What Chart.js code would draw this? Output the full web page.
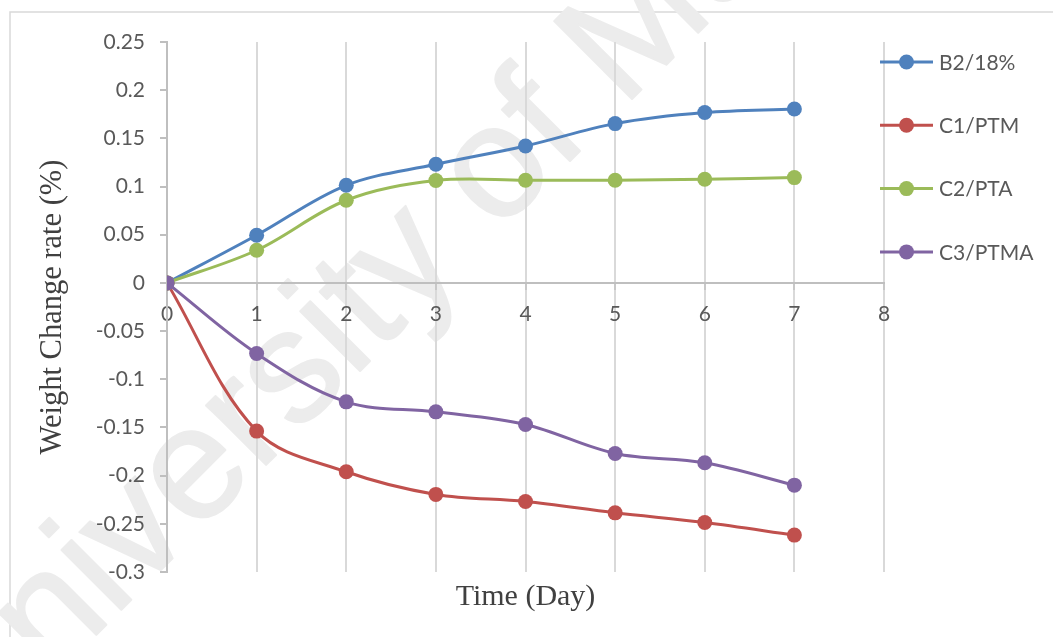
<!DOCTYPE html>
<html>
<head>
<meta charset="utf-8">
<title>Weight change rate</title>
<script src="https://cdn.jsdelivr.net/npm/chart.js@4.4.1/dist/chart.umd.min.js"></script>
<style>
  html, body { margin: 0; padding: 0; background: #ffffff; }
  #wrap { width: 1053px; height: 637px; position: relative; }
</style>
</head>
<body>
<div id="wrap"><canvas id="chart" width="1053" height="637"></canvas></div>
<script>
// Time points (days)
const days = [0, 1, 2, 3, 4, 5, 6, 7];

// Series names
const seriesNames = ['B2/18%', 'C1/PTM', 'C2/PTA', 'C3/PTMA'];

// Weight change rate (%) per series
const b2 = [0, 0.0495, 0.1013, 0.1231, 0.1421, 0.1653, 0.1768, 0.1805];
const c1 = [0, -0.1538, -0.1960, -0.2195, -0.2268, -0.2386, -0.2486, -0.2617];
const c2 = [0, 0.0339, 0.0858, 0.1062, 0.1065, 0.1065, 0.1076, 0.1093];
const c3 = [0, -0.0733, -0.1234, -0.1338, -0.1469, -0.1770, -0.1867, -0.2099];

// Axis ticks
const xTickValues = [0, 1, 2, 3, 4, 5, 6, 7, 8];
const xTickLabels = ['0', '1', '2', '3', '4', '5', '6', '7', '8'];
const yTickValues = [0.25, 0.2, 0.15, 0.1, 0.05, 0, -0.05, -0.1, -0.15, -0.2, -0.25, -0.3];
const yTickLabels = ['0.25', '0.2', '0.15', '0.1', '0.05', '0', '-0.05', '-0.1', '-0.15', '-0.2', '-0.25', '-0.3'];

const seriesValues = [b2, c1, c2, c3];
const seriesColors = ['#4f81bd', '#c0504d', '#9bbb59', '#8064a2'];

const tickFont = { family: 'Lato', size: 21 };
const tickColor = '#595959';
const titleFont = { family: 'Liberation Serif', size: 30 };

const datasets = seriesNames.map((name, i) => ({
  label: name,
  data: days.map((d, k) => ({ x: d, y: seriesValues[i][k] })),
  borderColor: seriesColors[i],
  backgroundColor: seriesColors[i],
  pointBackgroundColor: seriesColors[i],
  pointBorderColor: seriesColors[i],
  pointBorderWidth: 0,
  pointRadius: 7.5,
  borderWidth: 3,
  tension: 0.35,
  fill: false,
  order: seriesNames.length - i
}));

// Page frame and faint watermark behind the plot
const backdrop = {
  id: 'backdrop',
  beforeDraw(chart) {
    const ctx = chart.ctx;
    ctx.save();
    ctx.fillStyle = '#ffffff';
    ctx.fillRect(0, 0, chart.width, chart.height);
    ctx.strokeStyle = '#d9d9d9';
    ctx.lineWidth = 1.5;
    ctx.strokeRect(10, 12, chart.width + 20, chart.height + 20);
    ctx.translate(-31, 762);
    ctx.rotate(-45 * Math.PI / 180);
    ctx.font = '160px "Liberation Sans"';
    ctx.fillStyle = '#ececec';
    ctx.strokeStyle = '#ececec';
    ctx.lineWidth = 2;
    ctx.lineJoin = 'round';
    ctx.textBaseline = 'alphabetic';
    ctx.fillText('University of Malaya', 0, 0);
    ctx.strokeText('University of Malaya', 0, 0);
    ctx.restore();
  }
};

// Legend drawn as line + marker samples stacked on the right
const sideLegend = {
  id: 'sideLegend',
  afterDraw(chart, args, opts) {
    const ctx = chart.ctx;
    ctx.save();
    chart.data.datasets.forEach((ds, i) => {
      const y = opts.y + i * opts.gap;
      ctx.strokeStyle = ds.borderColor;
      ctx.lineWidth = 3;
      ctx.beginPath();
      ctx.moveTo(opts.x, y);
      ctx.lineTo(opts.x + opts.lineLen, y);
      ctx.stroke();
      ctx.fillStyle = ds.borderColor;
      ctx.beginPath();
      ctx.arc(opts.x + opts.lineLen / 2, y, 7.5, 0, Math.PI * 2);
      ctx.fill();
      ctx.fillStyle = tickColor;
      ctx.font = '21px Lato';
      ctx.textBaseline = 'middle';
      ctx.textAlign = 'left';
      ctx.fillText(ds.label, opts.x + opts.lineLen + 6, y + 1);
    });
    ctx.restore();
  }
};

new Chart(document.getElementById('chart'), {
  type: 'line',
  data: { datasets },
  plugins: [backdrop, sideLegend],
  options: {
    responsive: false,
    animation: false,
    layout: { padding: { top: 42, right: 169, bottom: 0, left: 0 } },
    plugins: {
      legend: { display: false },
      tooltip: { enabled: false },
      sideLegend: { x: 880, y: 62, gap: 63.3, lineLen: 53 }
    },
    scales: {
      x: {
        type: 'linear',
        position: { y: 0 },
        min: 0,
        max: 8,
        afterBuildTicks: (scale) => { scale.ticks = xTickValues.map(v => ({ value: v })); },
        ticks: {
          callback: (v) => xTickLabels[xTickValues.indexOf(v)],
          font: tickFont,
          color: tickColor,
          padding: 13,
          maxRotation: 0
        },
        grid: {
          color: '#d9d9d9',
          lineWidth: 2,
          tickColor: '#c8c8c8',
          tickLength: 6,
          drawOnChartArea: true
        },
        border: { display: true, color: '#bfbfbf', width: 2 }
      },
      xTitle: {
        type: 'linear',
        axis: 'x',
        position: 'bottom',
        min: 0,
        max: 8,
        afterFit: (scale) => { scale.height = 65; },
        ticks: { display: false },
        grid: { display: false, drawTicks: false },
        border: { display: false },
        title: {
          display: true,
          text: 'Time (Day)',
          font: titleFont,
          color: '#404040',
          padding: { top: 0, bottom: 22 }
        }
      },
      y: {
        type: 'linear',
        position: 'left',
        min: -0.3,
        max: 0.25,
        afterFit: (scale) => { scale.width = 167; },
        afterBuildTicks: (scale) => { scale.ticks = yTickValues.map(v => ({ value: v })); },
        ticks: {
          callback: (v) => {
            const k = yTickValues.findIndex(t => Math.abs(t - v) < 1e-9);
            return k >= 0 ? yTickLabels[k] : '';
          },
          font: tickFont,
          color: tickColor,
          padding: 15
        },
        grid: {
          drawOnChartArea: false,
          color: '#bfbfbf',
          tickColor: '#bfbfbf',
          tickLength: 7,
          lineWidth: 2
        },
        border: { display: true, color: '#bfbfbf', width: 2 },
        title: {
          display: true,
          text: 'Weight Change rate (%)',
          font: { family: 'Liberation Serif', size: 30.5 },
          color: '#404040',
          padding: { top: 35, bottom: 0 }
        }
      }
    }
  }
});
</script>
</body>
</html>
